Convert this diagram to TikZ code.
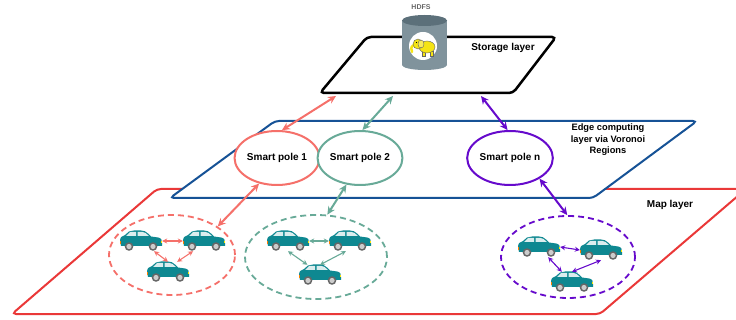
\documentclass[tikz,border=0pt]{standalone}
\usepackage{fontspec}
\setmainfont{Liberation Sans}
\usepackage{xcolor}
\usepackage{tikz}
\usetikzlibrary{arrows.meta,shapes.geometric}

\definecolor{maplayer}{RGB}{234,56,56}
\definecolor{edgelayer}{RGB}{22,82,150}
\definecolor{poleA}{RGB}{245,112,106}
\definecolor{poleB}{RGB}{104,170,152}
\definecolor{poleN}{RGB}{102,10,204}
\definecolor{carteal}{RGB}{14,136,145}
\definecolor{dbgray}{RGB}{128,147,156}
\definecolor{dblid}{RGB}{92,112,122}
\definecolor{elephant}{RGB}{245,228,20}

\begin{document}
\begin{tikzpicture}[
  x=1pt, y=-1pt,
  font=\fontsize{10}{12}\selectfont\bfseries, >={Stealth[length=8pt,width=7.5pt]},
  layerplane/.style={line width=2pt, rounded corners=4pt, fill=white},
  pole/.style={ellipse, line width=2pt, fill=white, minimum width=66pt, minimum height=54pt, inner sep=0pt},
  zone/.style={ellipse, line width=1.8pt, dash pattern=on 6pt off 4pt, inner sep=0pt},
  link/.style={<->, line width=2pt},
  carlink/.style={<->, line width=1.1pt, >={Stealth[length=5pt,width=5pt]}},
  car/.style={minimum width=42pt, minimum height=20pt, inner sep=0pt},
  carpic/.pic={
    \fill[carteal] (-20,5) -- (-21,0) .. controls (-21,-4) and (-19,-5) .. (-16,-6)
      -- (-12,-9.5) .. controls (-10,-10.5) .. (-7,-10.5) -- (0,-10.5)
      .. controls (3,-10.5) and (5,-9.5) .. (7,-7.5) -- (10,-4.5) -- (17,-3.5)
      .. controls (20.5,-3) and (21,-1) .. (21,2) -- (21,5) -- cycle;
    \fill[white!85!carteal] (-15,-5) -- (-11,-9) -- (-5,-9) -- (-5,-5) -- cycle;
    \fill[white!85!carteal] (-3.5,-5) -- (-3.5,-9) -- (1.5,-9) .. controls (3,-9) .. (4.5,-8) -- (8,-5) -- cycle;
    \foreach \w in {-12,12} {
      \fill[black!60] (\w,5.5) circle (4.3pt);
      \fill[black!20] (\w,5.5) circle (2.6pt);
    }
    \fill[yellow!90!orange] (19.6,0) rectangle (21,2.5);
    \fill[orange] (-21,0.5) rectangle (-19.8,3);
  },
]
\clip (0,0) rectangle (736,320);

% ---- the three planes
\draw[layerplane, draw=maplayer] (12,314) -- (157,189) -- (746,189) -- (600,314) -- cycle;
\draw[layerplane, draw=edgelayer] (170,198) -- (275,121) -- (697,121) -- (593,198) -- cycle;
\draw[layerplane, draw=black, line width=2.5pt] (320,93) -- (367,37) -- (556,37) -- (513,93) -- cycle;
\coordinate (st1) at (336,96);
\coordinate (st2) at (393,96);
\coordinate (stn) at (481,96);

% ---- HDFS store
\fill[dbgray] (402,20) rectangle (447,65);
\fill[dbgray] (424.5,65) ellipse (22.5pt and 5pt);
\fill[dblid] (424.5,20.5) ellipse (22.5pt and 5.5pt);
\fill[white] (423,46) circle (14pt);
\begin{scope}[draw=black!60, line width=0.4pt]
  \filldraw[fill=elephant] (422,51) rectangle (425,56);
  \filldraw[fill=elephant] (430,51) rectangle (433,56);
  \filldraw[fill=elephant] (427,47) ellipse (8pt and 6pt);
  \draw[elephant, line width=2.5pt, line cap=round] (414,45) .. controls (411,47) .. (412,52);
  \filldraw[fill=elephant] (418,44) circle (5pt);
  \filldraw[fill=elephant!70!white] (421,44) ellipse (3pt and 4pt);
  \fill[black] (416.5,42.5) circle (0.7pt);
\end{scope}
\node[font=\fontsize{7}{8}\selectfont\bfseries, text=black!60] (hdfs) at (421,7) {HDFS};

% ---- layer captions
\node (storagetxt) at (503,48) {Storage layer};
\node[align=center, font=\fontsize{9.3}{11.5}\selectfont\bfseries] (edgetxt) at (608,140)
  {Edge computing\\layer via Voronoi\\Regions};
\node (maptxt) at (670,205) {Map layer};

% ---- smart poles
\node[pole, draw=poleA] (pole1) at (277,158) {Smart pole 1};
\node[pole, draw=poleB, minimum width=75pt] (pole2) at (360,158) {Smart pole 2};
\node[pole, draw=poleN, minimum width=80pt] (polen) at (510,158) {Smart pole n};

% ---- vehicle zones
\node[zone, draw=poleA, minimum width=126pt, minimum height=80pt] (zone1) at (172,255) {};
\node[zone, draw=poleB, minimum width=142pt, minimum height=84pt] (zone2) at (316,257) {};
\node[zone, draw=poleN, minimum width=134pt, minimum height=82pt] (zonen) at (568,257) {};

\foreach \n/\x/\y in {a1/141/241, a2/204/241, a3/168/272,
                      b1/288/241, b2/350/241, b3/320/275,
                      n1/539/247, n2/601/250, n3/572/282} {
  \node[car] (\n) at (\x,\y) {};
  \pic at (\x,\y) {carpic};
}

% ---- pole links (storage <-> pole <-> zone)
\draw[link, poleA] (st1) -- (pole1.80);
\draw[link, poleA] (pole1.-125) -- (zone1.32);
\draw[link, poleB] (st2) -- (pole2.85);
\draw[link, poleB] (pole2.-117) -- (zone2.75);
\draw[link, poleN] (stn) -- (polen.95);
\draw[link, poleN] (polen.-35) -- (zonen.91);

% ---- car to car links
\draw[carlink, poleA] (a1.east) -- (a2.west);
\draw[carlink, poleA] (a1.-38) -- (a3.north);
\draw[carlink, poleA] (a3.48) -- (a2.-137);
\draw[carlink, poleB] (b1.east) -- (b2.west);
\draw[carlink, poleB] (b1.south) -- (b3.141);
\draw[carlink, poleB] (b3.north) -- (b2.-112);
\draw[carlink, poleN] (n1.east) -- (n2.west);
\draw[carlink, poleN] (n1.-48) -- (n3.135);
\draw[carlink, poleN] (n3.north) -- (n2.south);
\end{tikzpicture}
\end{document}
